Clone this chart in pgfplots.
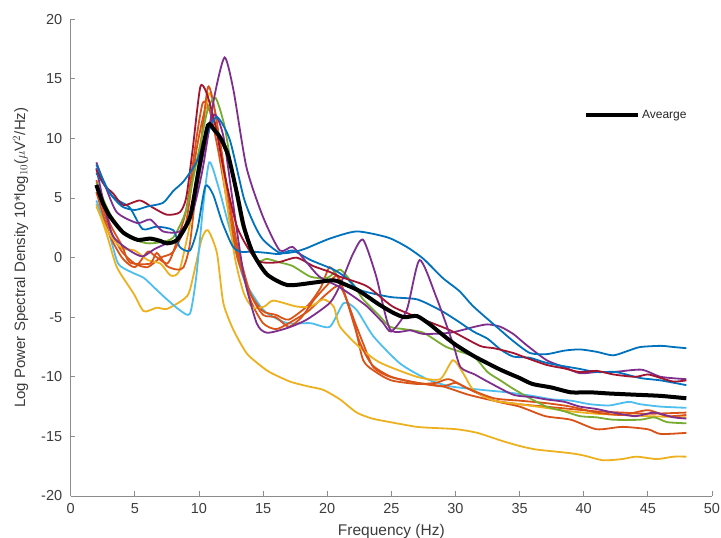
\documentclass[border=0pt]{standalone}
\usepackage{fontspec}
\setmainfont{Liberation Sans}
\usepackage{pgfplots}
\pgfplotsset{compat=1.18}
\definecolor{mblue}{RGB}{0,114,189}
\definecolor{morange}{RGB}{217,83,25}
\definecolor{myellow}{RGB}{237,177,32}
\definecolor{mpurple}{RGB}{126,47,142}
\definecolor{mgreen}{RGB}{119,172,48}
\definecolor{mlblue}{RGB}{77,190,238}
\definecolor{mdred}{RGB}{162,20,47}
\definecolor{axgray}{RGB}{140,140,140}
\definecolor{txtgray}{RGB}{60,60,60}
\begin{document}
\begin{tikzpicture}[x=1pt,y=1pt]
\useasboundingbox (0,0) rectangle (721,538);
\begin{axis}[
  at={(70.7pt,42pt)}, anchor=south west,
  scale only axis, width=641.3pt, height=476.7pt,
  xmin=0, xmax=50, ymin=-20, ymax=20,
  xtick={0,5,...,50}, ytick={-20,-15,...,20},
  axis lines*=left,
  axis line style={axgray, line width=0.9pt},
  tick style={axgray, line width=0.8pt},
  tick align=inside, major tick length=4.5pt,
  /pgf/number format/assume math mode=true,
  ticklabel style={font=\fontsize{14.5}{16}\selectfont, text=txtgray},
  yticklabel style={xshift=-5pt},
  xticklabel style={yshift=-4pt},
  xlabel={Frequency (Hz)},
  ylabel={Log Power Spectral Density 10*log$_{10}$($\mu$V$^2$/Hz)},
  label style={text=txtgray},
  xlabel style={font=\fontsize{15.5}{17}\selectfont, yshift=-4pt},
  ylabel style={font=\fontsize{15}{17}\selectfont, yshift=6pt},
  every axis plot/.append style={line width=1.8pt, smooth, tension=0.4},
  legend style={draw=none, fill=none, font=\fontsize{12}{14}\selectfont,
    at={(0.882,0.80)}, anchor=center, text=black!85},
  legend cell align=left,
  legend image code/.code={\draw[#1, line width=4pt] (0pt,0pt) -- (52pt,0pt);},
]
% Yellow B
\addplot[myellow, forget plot] coordinates {(2,4.5)(2.8,2.0)(3.6,-0.8)(4.9,-3.0)(5.7,-4.5)(6.7,-4.2)(7.5,-4.3)(8.8,-3.5)(9.3,-2.7)(10.2,1.5)(10.7,2.3)(11.4,0.4)(11.9,-3.8)(12.7,-6.1)(13.7,-8.0)(14.5,-8.8)(15.5,-9.6)(17.1,-10.4)(18.5,-10.8)(19.7,-11.1)(21,-11.9)(22.3,-13.0)(23.5,-13.5)(24.9,-13.8)(27,-14.2)(28.5,-14.3)(30.1,-14.4)(31.7,-14.7)(33.7,-15.4)(35,-15.8)(36.3,-16.1)(38.9,-16.4)(40,-16.6)(41.5,-17.0)(43,-16.9)(44.1,-16.7)(45.7,-16.9)(47,-16.7)(48,-16.7)};
% Light blue
\addplot[mlblue, forget plot] coordinates {(2,4.8)(3,2.0)(3.7,-0.5)(4.7,-1.2)(5.7,-1.7)(6.5,-2.5)(7.5,-3.5)(8.5,-4.4)(9.3,-4.7)(9.8,-1.5)(10.3,4.0)(10.8,8.0)(11.5,6.0)(12.5,2.0)(13.5,-1.8)(14.8,-4.1)(15.5,-4.8)(16.9,-5.5)(18.7,-5.5)(20.2,-5.8)(21.3,-3.8)(22.3,-4.4)(23.6,-6.6)(25.7,-8.9)(27.8,-10.2)(29.6,-10.8)(32.1,-11.1)(34,-11.3)(36,-11.6)(37.6,-11.9)(39,-12.0)(40.5,-12.3)(42,-12.4)(43.5,-12.1)(44.4,-12.3)(46,-12.5)(48,-12.6)};
% Orange B
\addplot[morange, forget plot] coordinates {(2,6.0)(3,2.5)(4,0.5)(5,-0.5)(6,-0.8)(7,0.0)(8,0.5)(9,3.0)(9.8,9.0)(10.5,12.5)(11,12.0)(11.6,10.0)(12.3,5.0)(13,0.5)(14,-3.5)(15,-5.5)(16,-6.0)(17,-5.5)(18.5,-4.5)(20,-3.0)(21,-2.4)(22,-5.0)(22.8,-8.6)(23.8,-9.6)(25,-10.3)(27,-10.6)(28.5,-10.5)(29.5,-10.2)(31,-11.0)(33,-12.0)(35,-12.5)(37,-13.3)(39,-13.6)(41,-14.4)(43,-14.2)(45,-14.4)(46,-14.8)(48,-14.7)};
% Orange C
\addplot[morange, forget plot] coordinates {(2,5.5)(3,2.0)(4,0.0)(5,-0.8)(6,0.5)(6.5,0.2)(7.5,-0.5)(8,0.5)(9,4.0)(9.8,10.0)(10.3,13.0)(10.8,12.5)(11.5,9.0)(12.3,4.0)(13,0.0)(14,-3.0)(15,-4.5)(16,-4.8)(17,-5.2)(18.5,-4.0)(19.5,-2.5)(20.2,-0.8)(21,-2.0)(21.8,-4.4)(22.8,-7.2)(23.6,-9.2)(24.9,-10.0)(27,-10.5)(29,-10.8)(31,-11.5)(33,-12.0)(35,-12.3)(37,-12.5)(39,-12.7)(41,-12.9)(43,-13.0)(45,-13.1)(48,-13.0)};
% Yellow A
\addplot[myellow, forget plot] coordinates {(2,4.3)(3,2.0)(4,0.8)(5,0.6)(6,-0.2)(7,-0.5)(7.8,-1.5)(8.5,-1.0)(9.5,4.0)(10.3,11.0)(10.8,13.8)(11.3,12.0)(12,6.0)(12.8,0.0)(13.5,-3.0)(14.2,-4.2)(15.1,-4.1)(15.8,-3.6)(17.6,-4.1)(18.7,-4.1)(19.7,-3.5)(20.5,-4.1)(21,-5.8)(22.5,-7.5)(24.1,-8.8)(27,-10.0)(28.8,-10.2)(29.8,-8.6)(30.6,-9.7)(31.4,-11.1)(33,-12.0)(35,-12.3)(37,-12.6)(39,-12.9)(41,-13.1)(43,-13.2)(45,-13.3)(48,-13.4)};
% Orange A
\addplot[morange, forget plot] coordinates {(2,6.5)(3,3.0)(4,1.0)(4.6,-0.4)(6.2,-0.5)(6.7,0.4)(7.5,-0.7)(8.3,-1.0)(8.8,-0.8)(9.3,1.2)(10,8.0)(10.7,14.3)(11.3,12.0)(12,7.0)(13,1.0)(14,-3.0)(15,-4.8)(16,-5.0)(17,-5.8)(18,-5.0)(19,-3.5)(20,-2.3)(20.8,-1.5)(21.5,-3.5)(22.5,-7.0)(23.5,-9.0)(25,-10.0)(27,-10.5)(29,-10.8)(30,-10.5)(31,-11.0)(33,-11.8)(35,-12.0)(37,-12.2)(39,-12.5)(41,-13.0)(43,-13.2)(45,-12.8)(46.5,-13.3)(48,-13.2)};
% Green
\addplot[mgreen, forget plot] coordinates {(2,6.3)(3,3.8)(4,2.3)(5,1.5)(6,1.2)(7,1.3)(8,1.7)(9,4.0)(10,9.0)(10.7,12.5)(11.3,13.4)(12,11.0)(12.7,6.5)(13.4,2.6)(14.5,-0.2)(15.3,-0.1)(16.3,-0.4)(17.3,-0.7)(18.7,-1.6)(20,-1.7)(21,-1.0)(22,-2.2)(22.8,-3.5)(24,-4.8)(24.9,-5.8)(26,-6.0)(27.5,-6.3)(29.3,-7.5)(31.4,-8.3)(32.5,-9.6)(33.5,-10.3)(34.5,-11.0)(35.8,-11.8)(37.1,-12.5)(38.5,-12.9)(39.7,-13.3)(41,-13.4)(42.3,-13.6)(44.4,-13.6)(45.5,-13.4)(46.5,-13.8)(48,-13.9)};
% Purple B
\addplot[mpurple, forget plot] coordinates {(2,7.5)(2.6,4.5)(3.3,1.8)(4.6,0.6)(5.6,0.1)(6.5,0.7)(7.5,1.2)(8.5,1.6)(9.5,4.0)(10.4,9.0)(11.2,12.0)(11.9,10.2)(12.6,5.0)(13.5,-1.5)(14.5,-5.5)(15.3,-6.3)(16.9,-5.9)(18.4,-5.2)(20.2,-3.8)(21,-2.3)(22,0.3)(22.8,1.5)(23.8,-1.5)(24.9,-6.0)(26.5,-6.1)(27.5,-6.4)(29.6,-6.3)(31.5,-5.8)(32.5,-5.6)(33.5,-5.8)(34.5,-6.4)(35.5,-7.3)(37.1,-8.6)(38.5,-9.2)(39.7,-9.7)(41,-9.6)(42.3,-9.6)(44.5,-9.4)(46,-10.0)(48,-10.2)};
% Blue B
\addplot[mblue, forget plot] coordinates {(2,7.1)(3.3,5.1)(4.6,4.2)(5.6,2.4)(6.7,2.6)(8,2.3)(8.5,0.9)(9.3,0.6)(9.9,2.5)(10.5,6.0)(11.1,5.3)(11.8,3.0)(12.6,1.0)(13.2,0.5)(14.2,0.5)(15.3,0.4)(16.3,0.3)(17.3,0.6)(18.7,-0.2)(20.5,-1.0)(21.5,-1.7)(22.5,-2.7)(24.9,-3.3)(27,-3.5)(28.8,-4.4)(30,-5.2)(31.4,-6.2)(32.5,-6.8)(33.5,-7.7)(34.5,-8.3)(35.8,-8.4)(37,-8.8)(38.4,-9.1)(39.5,-9.3)(41,-9.6)(42.5,-9.6)(44.4,-10.1)(46,-10.3)(48,-10.7)};
% Dark red
\addplot[mdred, forget plot] coordinates {(2,7.4)(2.7,6.0)(3.3,5.4)(4.1,4.4)(5.4,4.8)(6.4,4.2)(7.5,3.6)(8.5,3.8)(9.0,5.0)(9.5,9.0)(10.1,14.3)(10.6,13.8)(11.3,11.0)(12,7.0)(13,2.5)(14.5,-0.2)(16.1,-0.4)(17.6,0.0)(18.9,-0.7)(20.2,-1.2)(21,-1.6)(23.1,-2.4)(25.1,-4.1)(27.5,-5.2)(29.6,-6.1)(31.9,-7.4)(33,-7.6)(34.5,-8.0)(35.5,-8.4)(37.1,-9.0)(38.5,-9.3)(39.7,-9.6)(41,-9.5)(42.3,-9.8)(44,-10.0)(45,-9.8)(46,-10.1)(47,-10.4)(48,-10.3)};
% Purple A
\addplot[mpurple, forget plot] coordinates {(2,8.0)(2.7,6.0)(3.6,3.8)(5.2,2.9)(6.2,3.2)(7.2,2.2)(8.5,2.2)(9.5,3.8)(10.3,7.5)(11.2,13.5)(12,16.8)(12.7,14.0)(13.7,7.6)(15,3.4)(16.3,0.6)(17.3,0.9)(18.4,-0.4)(19.4,-1.6)(21,-2.5)(23,-4.0)(24.3,-5.4)(25,-6.2)(26.2,-4.4)(27.2,-0.2)(28.5,-3.3)(29.8,-7.2)(30.4,-9.2)(31.5,-9.8)(32.5,-10.4)(34.5,-11.5)(36,-11.7)(37.1,-11.9)(38.5,-12.1)(39.7,-12.5)(41,-12.7)(42.3,-13.0)(44,-13.3)(45.5,-13.0)(47,-13.4)(48,-13.5)};
% Blue A
\addplot[mblue, forget plot] coordinates {(2,7.8)(3,5.5)(4,4.3)(5,4.0)(6,4.3)(7.2,4.6)(8,5.6)(8.8,6.4)(9.8,8.0)(10.6,10.3)(11.4,11.8)(12.4,9.9)(13.5,5.0)(14.3,2.8)(15,1.5)(16.3,0.4)(17.5,0.5)(18.4,0.8)(20.2,1.6)(22.3,2.2)(24.7,1.7)(26.2,0.9)(27.5,-0.1)(29,-1.7)(30.3,-2.8)(31.4,-4.1)(33.2,-5.8)(34.5,-7.0)(35.8,-8.0)(37.1,-8.1)(38.5,-7.8)(39.7,-7.7)(41,-7.9)(42.3,-8.2)(43.5,-7.8)(44.4,-7.5)(46,-7.4)(47,-7.5)(48,-7.6)};
% Average
\addplot[black, line width=4pt] coordinates {(2,6.1)(2.5,4.6)(3.1,3.4)(4.1,2.1)(5.2,1.5)(6.2,1.6)(7,1.4)(7.5,1.2)(8.3,1.5)(9.3,3.4)(10,7.5)(10.7,11.1)(11.2,10.7)(11.7,10.0)(12.3,8.5)(13,5.2)(13.5,2.6)(14.2,0.4)(15.3,-1.4)(16.9,-2.3)(18.9,-2.1)(20.5,-1.9)(21.5,-2.3)(22.5,-2.8)(24,-3.9)(25.1,-4.6)(26,-5.0)(27,-4.9)(28,-5.6)(28.8,-6.3)(30,-7.3)(31.5,-8.3)(33.5,-9.4)(35,-10.1)(36,-10.6)(37.5,-10.9)(39,-11.3)(40.5,-11.3)(42,-11.4)(44,-11.5)(46,-11.6)(48,-11.8)};
\addlegendentry{Avearge}
\end{axis}
\end{tikzpicture}
\end{document}
